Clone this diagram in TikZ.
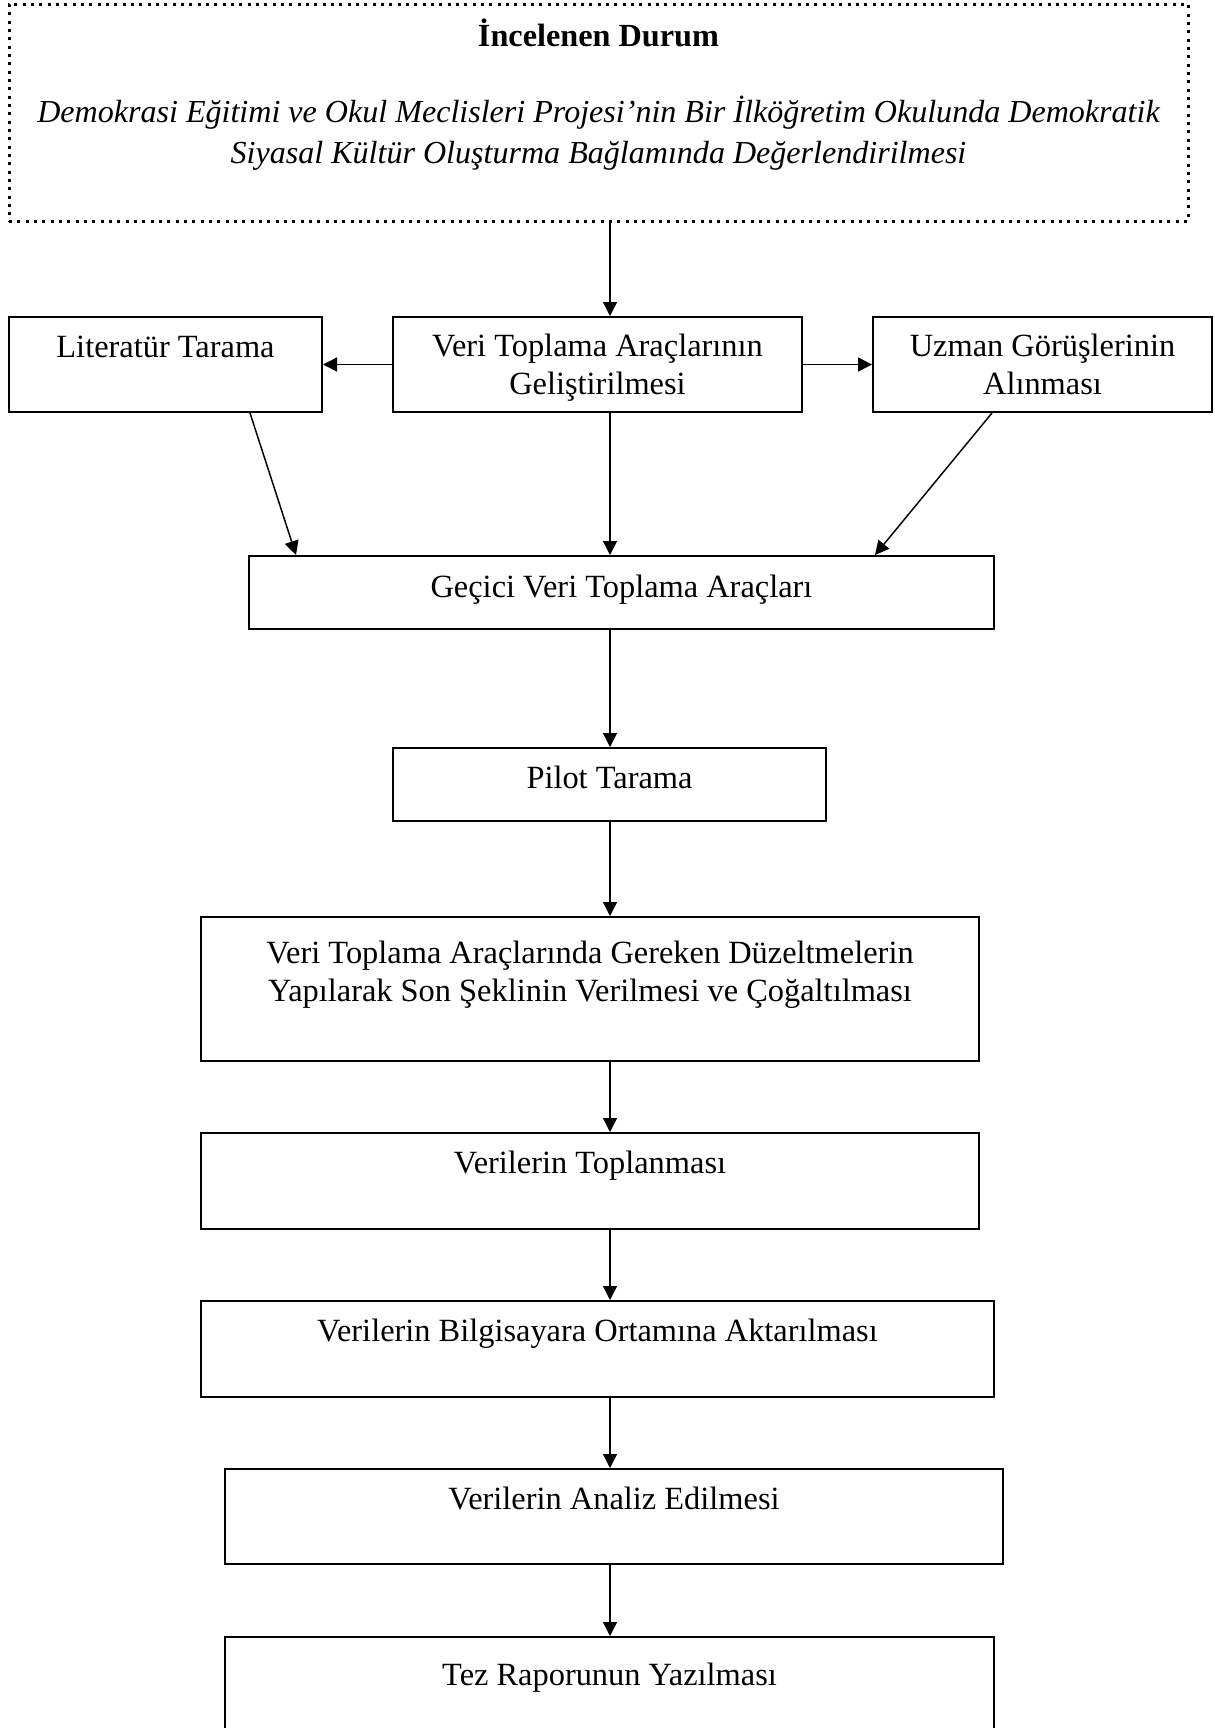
\documentclass[tikz,border=0pt]{standalone}
\usepackage{fontspec}
\setmainfont{Liberation Serif}
\usetikzlibrary{arrows.meta,fit}
\begin{document}
\begin{tikzpicture}[x=0.75pt,y=-0.75pt,
  box/.style={draw,line width=1.5pt,inner sep=0pt},
  dotbox/.style={draw,line width=2.25pt,dash pattern=on 2.25pt off 4pt,inner sep=0pt},
  txt/.style={font=\fontsize{24.3pt}{28pt}\selectfont,inner sep=0pt,anchor=base,align=center},
  arr/.style={line width=1.1pt,-{Triangle[length=10.5pt,width=10.5pt]}}]
\clip (0,0) rectangle (1214,1728);
\useasboundingbox (0,0) rectangle (1214,1728);
\coordinate (axis) at (610,0);
% boxes
\node[dotbox,fit={(9,4)(1188,221)}] (top) {};
\node[box,fit={(9,317)(322,412)}] (lit) {};
\node[box,fit={(393,317)(802,412)}] (veri) {};
\node[box,fit={(873,317)(1212,412)}] (uzman) {};
\node[box,fit={(249,556)(994,629)}] (gecici) {};
\node[box,fit={(393,748)(826,821)}] (pilot) {};
\node[box,fit={(201,917)(979,1061)}] (duz) {};
\node[box,fit={(201,1133)(979,1229)}] (topl) {};
\node[box,fit={(201,1301)(994,1397)}] (bilg) {};
\node[box,fit={(225,1469)(1003,1564)}] (analiz) {};
\node[box,fit={(225,1637)(994,1760)}] (tez) {};
% texts
\node[txt,font=\fontsize{24.2pt}{28pt}\selectfont\bfseries] (top-t) at (598.5,46) {İncelenen Durum};
\node[txt,font=\fontsize{24.05pt}{30.75pt}\selectfont\itshape] (top-s) at (598.5,163) {Demokrasi Eğitimi ve Okul Meclisleri Projesi’nin Bir İlköğretim Okulunda Demokratik\\Siyasal Kültür Oluşturma Bağlamında Değerlendirilmesi};
\node[txt] (lit-t) at (165.5,357) {Literatür Tarama};
\node[txt] (veri-t) at (597.5,394) {Veri Toplama Araçlarının\\Geliştirilmesi};
\node[txt] (uzman-t) at (1042.5,394) {Uzman Görüşlerinin\\Alınması};
\node[txt] (gecici-t) at (621.5,597) {Geçici Veri Toplama Araçları};
\node[txt] (pilot-t) at (609.5,788) {Pilot Tarama};
\node[txt] (duz-t) at (590,1001) {Veri Toplama Araçlarında Gereken Düzeltmelerin\\Yapılarak Son Şeklinin Verilmesi ve Çoğaltılması};
\node[txt] (topl-t) at (590,1173) {Verilerin Toplanması};
\node[txt] (bilg-t) at (597.5,1341) {Verilerin Bilgisayara Ortamına Aktarılması};
\node[txt] (analiz-t) at (614,1509) {Verilerin Analiz Edilmesi};
\node[txt] (tez-t) at (609.5,1685) {Tez Raporunun Yazılması};
% connectors
\draw[arr] (top.south -| axis) -- (veri.north -| axis);
\draw[arr] (veri.west) -- (lit.east);
\draw[arr] (veri.east) -- (uzman.west);
\draw[arr] ([xshift=-54.75pt]lit.south east) -- ([xshift=36pt]gecici.north west);
\draw[arr] (veri.south -| axis) -- (gecici.north -| axis);
\draw[arr] ([xshift=90pt]uzman.south west) -- ([xshift=-90pt]gecici.north east);
\draw[arr] (gecici.south -| axis) -- (pilot.north -| axis);
\draw[arr] (pilot.south -| axis) -- (duz.north -| axis);
\draw[arr] (duz.south -| axis) -- (topl.north -| axis);
\draw[arr] (topl.south -| axis) -- (bilg.north -| axis);
\draw[arr] (bilg.south -| axis) -- (analiz.north -| axis);
\draw[arr] (analiz.south -| axis) -- (tez.north -| axis);
\end{tikzpicture}
\end{document}
